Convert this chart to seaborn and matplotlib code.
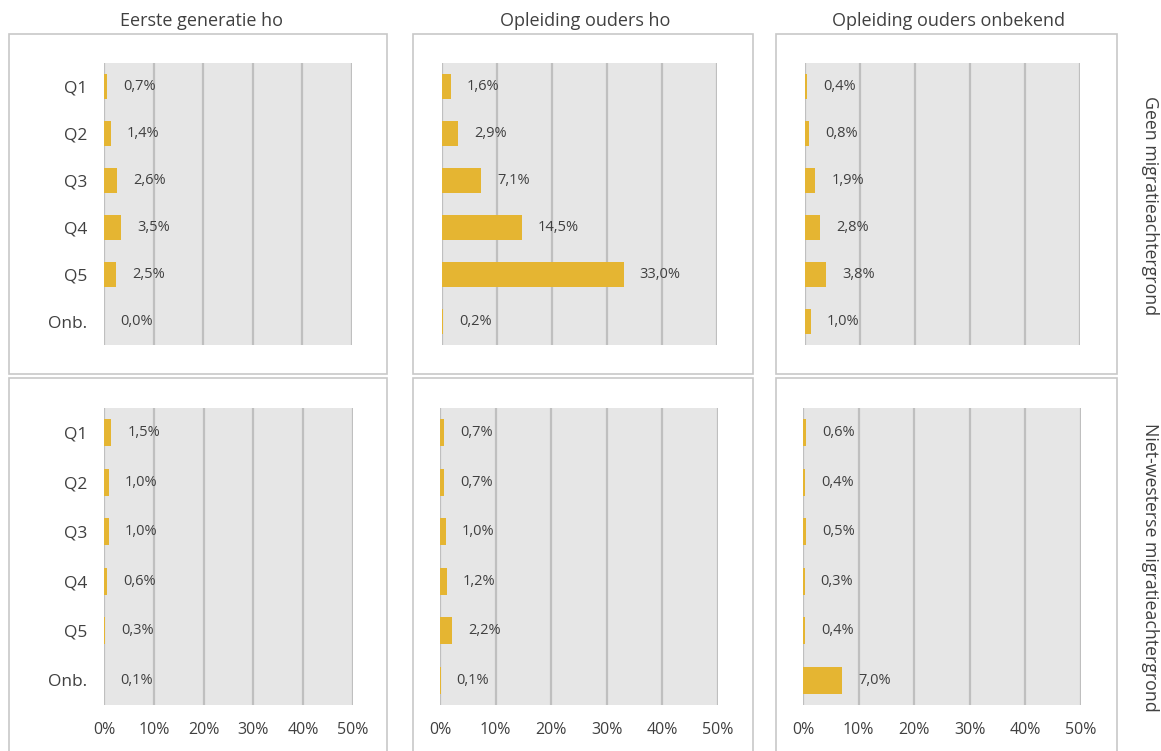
import matplotlib
matplotlib.use("Agg")
import matplotlib.pyplot as plt
from matplotlib.patches import Rectangle
import seaborn as sns
import pandas as pd

# ---- data ----
categories = ["Q1", "Q2", "Q3", "Q4", "Q5", "Onb."]
col_titles = ["Eerste generatie ho", "Opleiding ouders ho", "Opleiding ouders onbekend"]
row_titles = ["Geen migratieachtergrond", "Niet-westerse migratieachtergrond"]

geen_eerste_gen = [0.7, 1.4, 2.6, 3.5, 2.5, 0.0]
geen_ouders_ho = [1.6, 2.9, 7.1, 14.5, 33.0, 0.2]
geen_ouders_onb = [0.4, 0.8, 1.9, 2.8, 3.8, 1.0]
nw_eerste_gen = [1.5, 1.0, 1.0, 0.6, 0.3, 0.1]
nw_ouders_ho = [0.7, 0.7, 1.0, 1.2, 2.2, 0.1]
nw_ouders_onb = [0.6, 0.4, 0.5, 0.3, 0.4, 7.0]

x_ticks = [0, 10, 20, 30, 40, 50]
x_ticklabels = ["0%", "10%", "20%", "30%", "40%", "50%"]

series = {
    (0, 0): geen_eerste_gen, (0, 1): geen_ouders_ho, (0, 2): geen_ouders_onb,
    (1, 0): nw_eerste_gen, (1, 1): nw_ouders_ho, (1, 2): nw_ouders_onb,
}

rows = []
for (r, c), vals in series.items():
    for cat, v in zip(categories, vals):
        rows.append({"row": row_titles[r], "col": col_titles[c], "cat": cat, "value": v})
df = pd.DataFrame(rows)

# ---- style ----
sns.set_theme(style="white")
FONT = ["Open Sans", "DejaVu Sans"]
plt.rcParams["font.family"] = FONT
TEXT = "#404040"
GOLD = "#E5B532"
BG = "#E6E6E6"
GRID = "#BFBFBF"
BOX = "#C8C8C8"

W, H = 1161, 751
fig = plt.figure(figsize=(W / 100, H / 100), dpi=100)
fig.patch.set_facecolor("white")

def fx(x):
    return x / W

def fy(y):
    return 1 - y / H

# panel boxes (pixels: x0, x1) and rows (y0, y1)
box_cols = [(9, 387), (413, 753), (776, 1117)]
box_rows = [(34, 374), (378, 770)]
for (x0, x1) in box_cols:
    for (y0, y1) in box_rows:
        fig.add_artist(Rectangle((fx(x0), fy(y1)), fx(x1 - x0), (y1 - y0) / H,
                                 transform=fig.transFigure, facecolor="white",
                                 edgecolor=BOX, linewidth=1.2, zorder=0))

ax_cols = [[(104, 352), (442, 717), (805, 1080)],
           [(104, 353), (440, 718), (803, 1081)]]
ax_rows = [(63, 345), (408, 705)]

for r in range(2):
    for c in range(3):
        x0, x1 = ax_cols[r][c]
        y0, y1 = ax_rows[r]
        ax = fig.add_axes([fx(x0), fy(y1), fx(x1 - x0), (y1 - y0) / H], zorder=2)
        sub = df[(df["row"] == row_titles[r]) & (df["col"] == col_titles[c])]
        sns.barplot(data=sub, x="value", y="cat", order=categories, color=GOLD,
                    width=0.55, saturation=1, ax=ax, orient="h", linewidth=0,
                    edgecolor=GOLD)
        ax.set_facecolor(BG)
        ax.set_xlim(0, 50)
        ax.set_xticks(x_ticks)
        ax.grid(axis="x", color=GRID, linewidth=1.6)
        ax.grid(axis="y", visible=False)
        ax.set_axisbelow(True)
        for s in ax.spines.values():
            s.set_visible(False)
        ax.set_xlabel("")
        ax.set_ylabel("")
        ax.tick_params(length=0)
        labels = [f"{v:.1f}%".replace(".", ",") for v in sub["value"]]
        ax.bar_label(ax.containers[0], labels=labels, padding=11.5,
                     fontsize=10.5, color=TEXT)
        if c == 0:
            ax.set_yticks(range(len(categories)))
            ax.set_yticklabels(categories, fontsize=12.5, color=TEXT)
            ax.tick_params(axis="y", pad=12)
        else:
            ax.set_yticklabels([])
        if r == 1:
            ax.set_xticklabels(x_ticklabels, fontsize=11.5, color=TEXT)
            ax.tick_params(axis="x", pad=12)
        else:
            ax.set_xticklabels([])

# column titles
for cx, t in zip([201, 585, 948], col_titles):
    fig.text(fx(cx), fy(21), t, ha="center", va="center", fontsize=13, color=TEXT)

# row titles
for cy, t in zip([206, 567], row_titles):
    fig.text(fx(1150), fy(cy), t, ha="center", va="center", rotation=-90,
             fontsize=12.8, color=TEXT)

fig.savefig("out.png", dpi=100, facecolor="white")
